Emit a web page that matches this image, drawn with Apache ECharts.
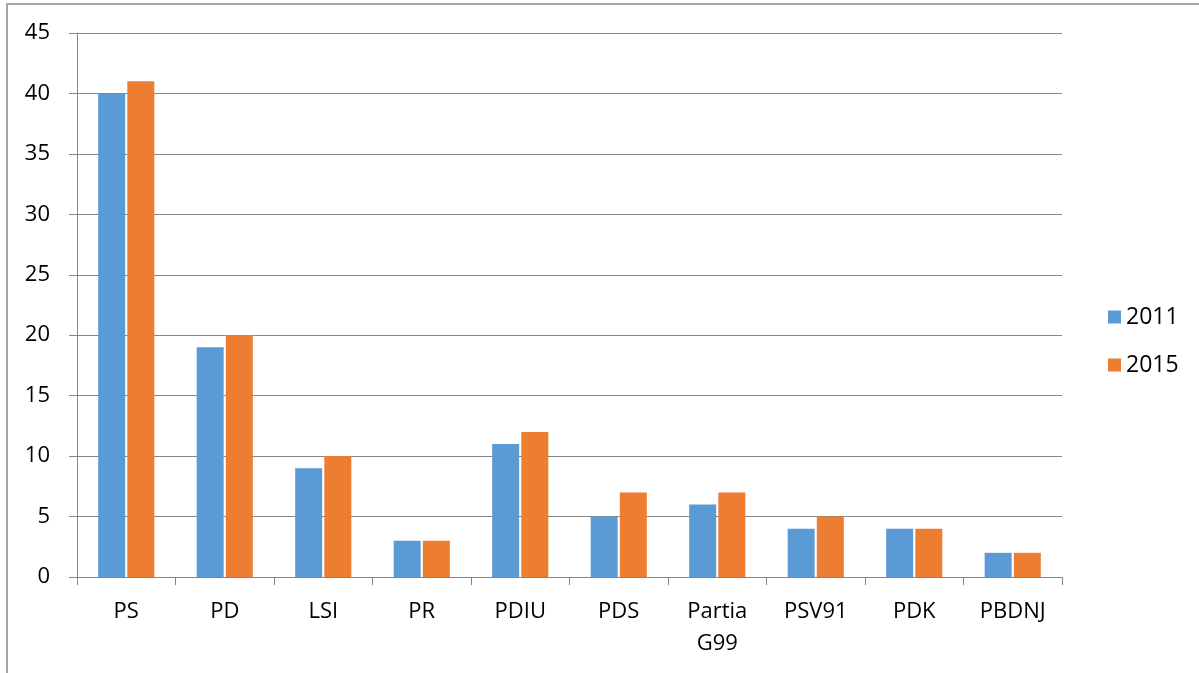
<!DOCTYPE html>
<html>
<head>
<meta charset="utf-8">
<script src="https://cdn.jsdelivr.net/npm/echarts@6/dist/echarts.min.js"></script>
<style>
  html, body { margin: 0; padding: 0; background: #fff; }
  #chart { width: 1199px; height: 673px; }
</style>
</head>
<body>
<div id="chart"></div>
<script>
let categories = ['PS', 'PD', 'LSI', 'PR', 'PDIU', 'PDS', 'Partia\nG99', 'PSV91', 'PDK', 'PBDNJ']
let seats2011 = [40, 19, 9, 3, 11, 5, 6, 4, 4, 2]
let seats2015 = [41, 20, 10, 3, 12, 7, 7, 5, 4, 2]
let yTicks = [0, 5, 10, 15, 20, 25, 30, 35, 40, 45]

let dom = document.getElementById('chart')
let myChart = echarts.init(dom, null, { renderer: 'canvas' })

let option = {
    animation: false,
    textStyle: { fontFamily: 'Open Sans' },
    graphic: [
        {
            type: 'rect',
            shape: { x: 7, y: 4, width: 1300, height: 800 },
            style: { fill: 'none', stroke: '#a6a6a6', lineWidth: 2 }
        }
    ],
    grid: { left: 77, right: 137, top: 33, bottom: 96 },
    legend: {
        orient: 'vertical',
        left: 1103,
        top: 296,
        itemWidth: 13,
        itemHeight: 13,
        itemGap: 16,
        icon: 'rect',
        textStyle: { fontSize: 23, color: '#000', fontFamily: 'Open Sans', lineHeight: 32 },
        data: ['2011', '2015']
    },
    xAxis: {
        type: 'category',
        data: categories,
        axisLine: { lineStyle: { color: '#868686', width: 1 } },
        axisTick: { show: true, length: 8, lineStyle: { color: '#868686' } },
        axisLabel: {
            color: '#000',
            fontSize: 22,
            margin: 19,
            lineHeight: 32,
            interval: 0
        }
    },
    yAxis: {
        type: 'value',
        min: yTicks[0],
        max: yTicks[yTicks.length - 1],
        interval: 5,
        axisLine: { show: true, lineStyle: { color: '#868686' } },
        axisTick: { show: true, length: 8, lineStyle: { color: '#868686' } },
        splitLine: { lineStyle: { color: '#868686', width: 1 } },
        axisLabel: { color: '#000', fontSize: 22, margin: 27 }
    },
    series: [
        {
            name: '2011',
            type: 'bar',
            data: seats2011,
            barWidth: 27,
            barGap: '8%',
            itemStyle: { color: '#5b9bd5' }
        },
        {
            name: '2015',
            type: 'bar',
            data: seats2015,
            barWidth: 27,
            barGap: '8%',
            itemStyle: { color: '#ed7d31' }
        }
    ]
}

myChart.setOption(option)
</script>
</body>
</html>
